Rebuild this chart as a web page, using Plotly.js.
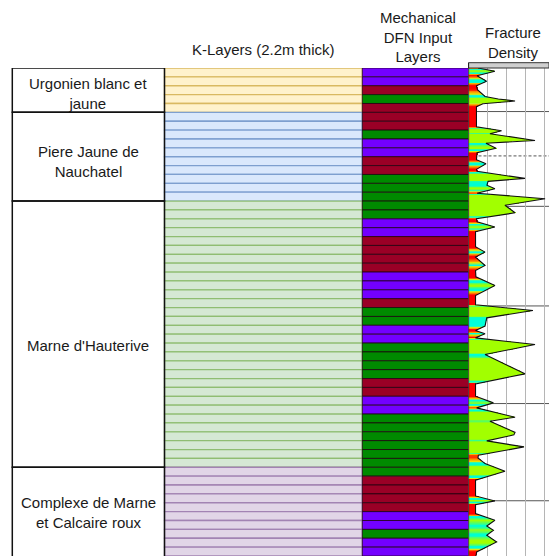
<!DOCTYPE html>
<html>
<head>
<meta charset="utf-8">
<script src="https://cdn.plot.ly/plotly-3.0.1.min.js"></script>
<style>html,body{margin:0;padding:0;background:#fff;}#chart{width:549px;height:556px;}</style>
</head>
<body>
<div id="chart"></div>
<script>
// ---------------- DATA ----------------
const formations = ["Urgonien blanc et<br>jaune", "Piere Jaune de<br>Nauchatel", "Marne d'Hauterive", "Complexe de Marne<br>et Calcaire roux"];
const formationRows = [5, 10, 30, 10];
const layerThickness = 2.2;
// mechanical DFN input layer per K-layer (P = purple, R = red, G = green)
const mechLayers = ["P","P","R","G","R","R","R","G","P","P",
                    "R","R","G","G","G","G","G","P","P","R",
                    "R","R","R","P","P","P","R","G","G","P",
                    "P","G","G","G","G","R","R","P","P","G",
                    "G","G","G","G","G","G","R","R","R","R",
                    "P","P","G","P","P"];
// fracture density profile (depth in m, density)
const fracDepth = [0, 0.79, 1.91, 3.27, 4.39, 5.38, 7.05, 7.69, 8.19, 8.86, 9.60,
  14.56, 15.55, 16.30, 17.96, 18.66, 19.90, 21.01, 22.75, 23.74, 25.14, 25.63,
  27.37, 28.11, 29.07, 29.94, 31.06, 32.42, 34.04, 35.90, 37.39, 38.13, 39.44, 40.61,
  44.33, 45.65, 46.89, 48.97, 50.21, 51.77, 53.93, 56.41, 58.72, 60.13, 61.95, 64.00,
  65.10, 65.91, 66.91, 68.57, 71.05, 75.84, 78.32, 81.37, 83.03, 84.27, 86.58, 87.57,
  90.35, 90.97, 92.46, 93.95, 96.01, 96.68, 98.09, 99.98, 102.21, 106.10, 107.34, 108.26,
  110.49, 112.13, 113.55, 114.61, 115.85, 117.51, 120.00, 121.0];
const fracDensity = [0.50, 1.39, 0.45, 0.95, 0.42, 0.47, 0.87, 1.57, 2.45, 0.76, 0.42,
  0.42, 1.74, 1.13, 3.50, 0.92, 1.45, 0.45, 0.42, 0.92, 0.42, 0.45,
  2.97, 1.03, 0.97, 1.39, 0.45, 4.03, 1.92, 2.45, 0.42, 0.45, 1.39, 0.37,
  0.37, 0.87, 0.37, 0.87, 0.37, 0.39, 1.39, 0.37, 0.37, 3.39, 0.96, 0.87,
  0.37, 0.87, 0.37, 3.50, 0.87, 2.97, 0.37, 0.37, 1.31, 0.43, 2.45, 1.13,
  2.45, 2.39, 0.96, 2.92, 0.52, 0.50, 0.87, 1.92, 0.37, 0.37, 1.39, 0.37,
  0.37, 1.39, 0.96, 1.31, 0.96, 1.48, 0.43, 0.39];
const refLineDepths = [10.8, 34.3, 59.0, 83.2, 107.3];
const markerLineDepths = [21.8];

// ---------------- STYLE ----------------
const W = 549, H = 556, TOP = 68, BOT = 0;
const totalDepth = 121;
const formationFill = ["#fff2cc", "#dae8fc", "#d5e8d4", "#e1d5e7"];
const formationLine = ["#d9b961", "#7e9fcf", "#8fbd72", "#a283b3"];
const mechColor = {P: "#7300ff", R: "#9a0026", G: "#008a00"};
const boxX0 = 12.3, boxX1 = 164.5, kX1 = 362.3, mechX1 = 468.5;
const fracPxPerUnit = 19;
const fracMax = (W - mechX1) / fracPxPerUnit;
const font = "Liberation Sans, Arial, sans-serif";

// ---------------- BUILD ----------------
const rowDepth = [], rowFill = [], rowLine = [];
const fmTop = [], fmBot = [];
let r = 0;
formationRows.forEach((n, f) => {
  fmTop.push(r * layerThickness);
  for (let k = 0; k < n; k++) {
    rowDepth.push((r + 0.5) * layerThickness);
    rowFill.push(formationFill[f]);
    rowLine.push(formationLine[f]);
    r++;
  }
  fmBot.push(r * layerThickness);
});

const kTrace = {
  type: "bar", orientation: "h", xaxis: "x", yaxis: "y",
  y: rowDepth, x: rowDepth.map(() => kX1 - boxX1), base: boxX1,
  width: layerThickness,
  marker: {color: rowFill, line: {color: rowLine, width: 1.3}},
  hoverinfo: "skip"
};
const mechTrace = {
  type: "bar", orientation: "h", xaxis: "x", yaxis: "y",
  y: mechLayers.map((_, i) => (i + 0.5) * layerThickness),
  x: mechLayers.map(() => mechX1 - kX1), base: kX1,
  width: layerThickness,
  marker: {color: mechLayers.map(c => mechColor[c]), line: {color: "rgba(30,0,15,0.75)", width: 1}},
  hoverinfo: "skip"
};

function interp(d) {
  for (let i = 0; i < fracDepth.length - 1; i++) {
    if (d >= fracDepth[i] && d <= fracDepth[i + 1]) {
      const t = (d - fracDepth[i]) / (fracDepth[i + 1] - fracDepth[i]);
      return fracDensity[i] + t * (fracDensity[i + 1] - fracDensity[i]);
    }
  }
  return fracDensity[fracDensity.length - 1];
}
const dx = 0.04, dy = 0.2;
const hx = [], hy = [], hz = [];
for (let j = 0; j * dx < fracMax; j++) hx.push((j + 0.5) * dx);
for (let i = 0; i * dy < totalDepth; i++) {
  const d = (i + 0.5) * dy;
  hy.push(d);
  const v = interp(d);
  hz.push(hx.map(x => (x - dx / 2 < v ? v : null)));
}
const zmax = 4.24;
const s = v => v / zmax;
const heat = {
  type: "heatmap", xaxis: "x2", yaxis: "y",
  x: hx, y: hy, z: hz, zmin: 0, zmax: zmax, showscale: false, hoverinfo: "skip",
  colorscale: [
    [0, "#ff0000"], [s(0.45), "#ff0000"], [s(0.6), "#ff8a00"], [s(0.72), "#e8e800"],
    [s(0.85), "#00ffdc"], [s(1.0), "#00ffd0"], [s(1.35), "#a2ff00"], [1, "#a2ff00"]
  ]
};
const outline = {
  type: "scatter", mode: "lines", xaxis: "x2", yaxis: "y",
  x: fracDensity, y: fracDepth, line: {color: "#111", width: 1.1}, hoverinfo: "skip"
};

const shapes = [];
formations.forEach((_, f) => {
  shapes.push({type: "rect", xref: "x", yref: "y", x0: boxX0, x1: boxX1,
    y0: fmTop[f], y1: f === formations.length - 1 ? fmBot[f] + 6 : fmBot[f],
    line: {color: "#111", width: 1.5}, fillcolor: "rgba(0,0,0,0)", layer: "above"});
});
refLineDepths.forEach(d => shapes.push({type: "line", xref: "x2", yref: "y", x0: 0, x1: fracMax, y0: d, y1: d,
  line: {color: "#555", width: 1}, layer: "below"}));
markerLineDepths.forEach(d => shapes.push({type: "line", xref: "x2", yref: "y", x0: 0, x1: fracMax, y0: d, y1: d,
  line: {color: "#555", width: 1, dash: "3px,2px"}, layer: "below"}));
const plotH = H - TOP - BOT;
const py = p => (H - BOT - p) / plotH;
shapes.push({type: "rect", xref: "paper", yref: "paper", x0: mechX1 / W, x1: 1, y0: py(68), y1: py(62.7),
  fillcolor: "#cfcfcf", line: {color: "#333", width: 1}});
shapes.push({type: "line", xref: "x2", yref: "paper", x0: 0, x1: 0, y0: 0, y1: py(62.7),
  line: {color: "#111", width: 1.2}});

const labelShift = [-3, -5, -11, -1];
const txtFont = {family: font, size: 15, color: "#1a1a1a"};
const annotations = formations.map((t, f) => ({
  xref: "x", yref: "y", x: (boxX0 + boxX1) / 2, y: (fmTop[f] + fmBot[f]) / 2, yshift: labelShift[f],
  xanchor: "center", yanchor: "middle",
  text: t, showarrow: false, font: txtFont, align: "center"
}));
annotations.push({xref: "paper", yref: "paper", x: 263 / W, y: py(49), xanchor: "center", yanchor: "middle",
  text: "K-Layers (2.2m thick)", showarrow: false, font: txtFont});
annotations.push({xref: "paper", yref: "paper", x: 418 / W, y: py(37), xanchor: "center", yanchor: "middle",
  text: "Mechanical<br>DFN Input<br>Layers", showarrow: false, font: txtFont, align: "center"});
annotations.push({xref: "paper", yref: "paper", x: 513 / W, y: py(42), xanchor: "center", yanchor: "middle",
  text: "Fracture<br>Density", showarrow: false, font: txtFont, align: "center"});

const layout = {
  width: W, height: H, margin: {l: 0, r: 0, t: TOP, b: BOT, pad: 0},
  paper_bgcolor: "#fff", plot_bgcolor: "#fff", showlegend: false,
  bargap: 0, barmode: "overlay",
  xaxis: {domain: [0, mechX1 / W], range: [0, mechX1], visible: false, fixedrange: true},
  xaxis2: {domain: [mechX1 / W, 1], range: [0, fracMax], anchor: "y", showgrid: true, dtick: 1, tick0: 0,
    gridcolor: "#b5b5b5", gridwidth: 1.3, showticklabels: false, ticks: "", zeroline: false, showline: false},
  yaxis: {range: [totalDepth, 0], visible: false, showgrid: false, zeroline: false},
  shapes: shapes, annotations: annotations
};
Plotly.newPlot("chart", [kTrace, mechTrace, heat, outline], layout, {staticPlot: true, displayModeBar: false});
</script>
</body>
</html>
